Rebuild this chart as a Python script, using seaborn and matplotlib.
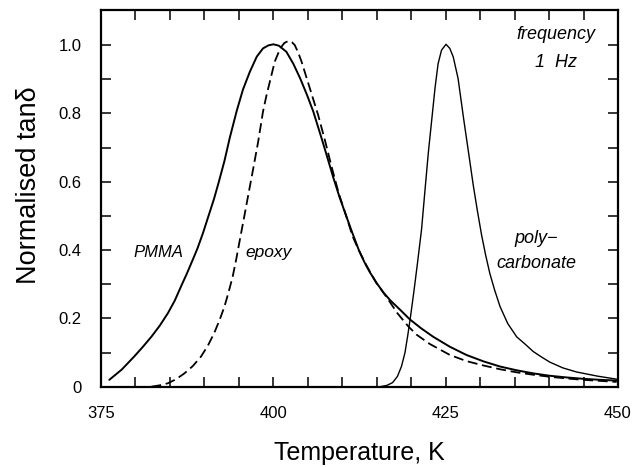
import matplotlib
matplotlib.use("Agg")
import matplotlib.pyplot as plt
import seaborn as sns
from matplotlib.ticker import FixedLocator, FuncFormatter

# ---- data ----
pmma_T = [376.2, 378.0, 379.8, 381.0, 382.3, 383.5, 384.7, 385.7, 386.6, 387.5,
          388.3, 389.0, 389.8, 390.6, 391.4, 392.1, 392.9, 393.7, 394.7, 395.6,
          396.6, 397.6, 398.5, 399.3, 400.0, 400.8, 401.9, 402.9, 403.9, 404.9,
          405.8, 407.0, 407.7, 408.7, 409.6, 410.6, 411.5, 412.4, 413.2, 414.0,
          415.0, 416.0, 417.0, 418.4, 419.8, 421.5, 423.2, 425.6, 428.0, 430.5,
          432.9, 435.3, 437.7, 440.1, 442.6, 445.0, 447.5, 449.8]
pmma_y = [0.020, 0.050, 0.088, 0.115, 0.146, 0.178, 0.215, 0.252, 0.293, 0.333,
          0.371, 0.405, 0.450, 0.500, 0.550, 0.600, 0.660, 0.730, 0.808, 0.870,
          0.922, 0.966, 0.990, 0.999, 1.002, 0.998, 0.980, 0.945, 0.902, 0.853,
          0.805, 0.727, 0.680, 0.612, 0.555, 0.498, 0.448, 0.400, 0.365, 0.335,
          0.303, 0.275, 0.252, 0.225, 0.197, 0.170, 0.146, 0.117, 0.093, 0.074,
          0.059, 0.048, 0.039, 0.032, 0.027, 0.023, 0.020, 0.018]

epoxy_T = [382.3, 383.5, 384.7, 385.9, 387.1, 388.3, 389.5, 390.5, 391.4, 392.2,
           392.9, 393.5, 394.1, 394.6, 395.2, 395.8, 396.4, 397.1, 397.8, 398.5,
           399.0, 399.5, 400.2, 401.0, 401.6, 402.2, 402.7, 403.1, 403.6, 404.1,
           404.7, 405.3, 405.9, 406.5, 407.5, 408.5, 409.5, 410.6, 411.5, 412.5,
           413.5, 414.9, 416.4, 418.0, 419.6, 420.8, 422.7, 425.6, 428.0, 430.5,
           432.9, 435.3, 437.7, 440.1, 442.6, 445.0, 447.4, 449.8]
epoxy_y = [0.000, 0.004, 0.010, 0.022, 0.039, 0.060, 0.088, 0.120, 0.156, 0.195,
           0.234, 0.276, 0.322, 0.371, 0.436, 0.500, 0.565, 0.640, 0.717, 0.805,
           0.852, 0.893, 0.951, 0.990, 1.006, 1.012, 1.008, 1.000, 0.978, 0.951,
           0.912, 0.873, 0.834, 0.795, 0.720, 0.640, 0.565, 0.498, 0.440, 0.395,
           0.355, 0.305, 0.263, 0.215, 0.176, 0.152, 0.125, 0.093, 0.075, 0.062,
           0.051, 0.042, 0.035, 0.029, 0.024, 0.020, 0.017, 0.014]

pc_T = [415.5, 416.5, 417.3, 418.0, 418.6, 419.1, 419.5, 419.9, 420.4, 420.9,
        421.5, 422.0, 422.5, 423.0, 423.45, 423.9, 424.4, 425.05, 425.6, 426.1,
        426.8, 427.6, 428.3, 429.0, 429.6, 430.2, 430.8, 431.4, 432.1, 432.9,
        434.0, 435.3, 436.5, 437.7, 438.9, 440.1, 442.0, 444.0, 447.0, 449.8]
pc_y = [0.000, 0.004, 0.012, 0.030, 0.060, 0.100, 0.150, 0.205, 0.280, 0.360,
        0.460, 0.575, 0.688, 0.785, 0.873, 0.945, 0.985, 1.002, 0.990, 0.965,
        0.902, 0.785, 0.688, 0.590, 0.515, 0.445, 0.385, 0.332, 0.283, 0.234,
        0.185, 0.146, 0.125, 0.103, 0.087, 0.072, 0.055, 0.043, 0.031, 0.022]

x_ticks = [375, 380, 385, 390, 395, 400, 405, 410, 415, 420, 425, 430, 435, 440, 445, 450]
x_labels = [375, 400, 425, 450]
y_ticks = [0.0, 0.1, 0.2, 0.3, 0.4, 0.5, 0.6, 0.7, 0.8, 0.9, 1.0]
y_labels = {0.0: "0", 0.2: "0.2", 0.4: "0.4", 0.6: "0.6", 0.8: "0.8", 1.0: "1.0"}

# ---- style ----
sns.set_theme(style="ticks")
plt.rcParams["font.family"] = ["Liberation Sans", "DejaVu Sans"]

fig = plt.figure(figsize=(6.44, 4.67), dpi=100)
ax = fig.add_axes([101 / 644, 1 - 386.7 / 467, 517 / 644, 376.7 / 467])

sns.lineplot(x=pmma_T, y=pmma_y, ax=ax, color="black", lw=1.4, sort=False)
sns.lineplot(x=epoxy_T, y=epoxy_y, ax=ax, color="black", lw=1.3, sort=False,
             linestyle=(0, (5.5, 2.6)))
sns.lineplot(x=pc_T, y=pc_y, ax=ax, color="black", lw=1.0, sort=False)

ax.set_xlim(375, 450)
ax.set_ylim(0, 1.1024)

ax.xaxis.set_major_locator(FixedLocator(x_ticks))
ax.xaxis.set_major_formatter(FuncFormatter(
    lambda v, p: str(int(round(v))) if int(round(v)) in x_labels else ""))
ax.yaxis.set_major_locator(FixedLocator(y_ticks))
ax.yaxis.set_major_formatter(FuncFormatter(
    lambda v, p: y_labels.get(round(v, 1), "")))

ax.tick_params(axis="both", which="major", direction="in", length=7, width=1.1,
               top=True, right=True, labelsize=12, color="black", labelcolor="black")
ax.tick_params(axis="x", pad=14)
ax.tick_params(axis="y", pad=14)

for s in ax.spines.values():
    s.set_linewidth(1.6)
    s.set_color("black")

ax.set_xlabel("Temperature, K", fontsize=18, labelpad=14, color="black")
ax.set_ylabel("Normalised tanδ", fontsize=19.5, labelpad=10, color="black")
ax.yaxis.set_label_coords(-0.115, 0.535)

tkw = dict(style="italic", color="black")
ax.text(383.3, 0.38, "PMMA", ha="center", va="baseline", fontsize=12, **tkw)
ax.text(396.0, 0.38, "epoxy", ha="left", va="baseline", fontsize=12.5, **tkw)
ax.text(438.2, 0.42, "poly\u2212", ha="center", va="baseline", fontsize=13, **tkw)
ax.text(438.2, 0.346, "carbonate", ha="center", va="baseline", fontsize=13, **tkw)
ax.text(441.0, 1.017, "frequency", ha="center", va="baseline", fontsize=13, **tkw)
ax.text(441.0, 0.937, "1  Hz", ha="center", va="baseline", fontsize=13, **tkw)

fig.savefig("out.png", dpi=100, facecolor="white")
